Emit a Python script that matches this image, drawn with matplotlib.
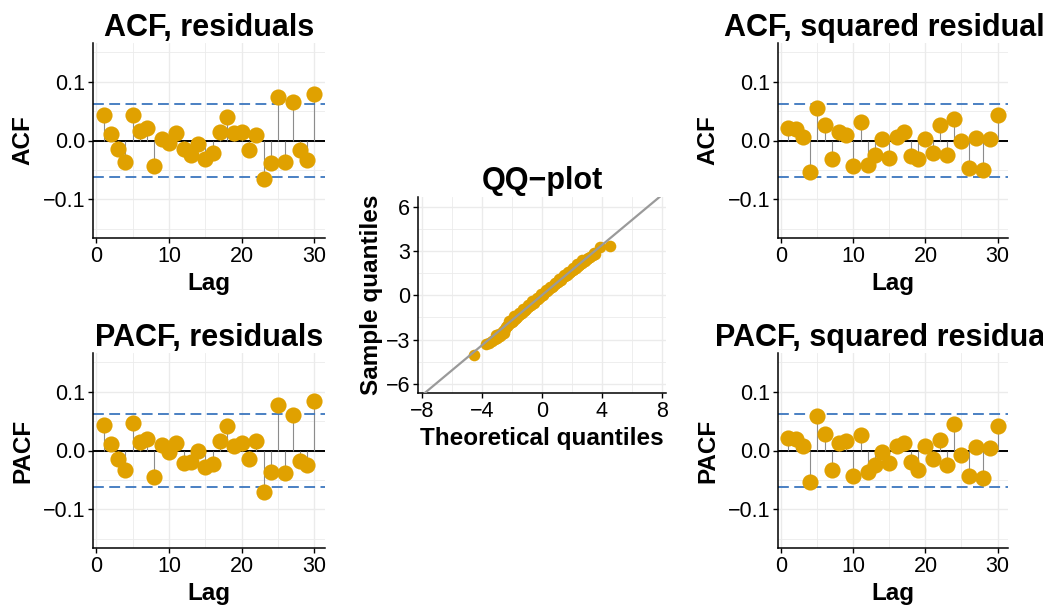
import matplotlib
matplotlib.use("Agg")
import matplotlib.pyplot as plt
import numpy as np

plt.rcParams["font.family"] = ["Liberation Sans", "DejaVu Sans"]

# -------------------------
# Data
# -------------------------
lags = list(range(1, 31))

acf_res = [0.043, 0.011, -0.014, -0.036, 0.043, 0.017, 0.022, -0.043, 0.003, -0.004,
           0.012, -0.014, -0.024, -0.006, -0.031, -0.022, 0.014, 0.040, 0.013, 0.014,
           -0.017, 0.010, -0.065, -0.038, 0.074, -0.037, 0.065, -0.017, -0.034, 0.080]

pacf_res = [0.043, 0.011, -0.015, -0.033, 0.046, 0.015, 0.019, -0.045, 0.009, -0.003,
            0.012, -0.021, -0.020, -0.001, -0.028, -0.023, 0.017, 0.041, 0.007, 0.012,
            -0.014, 0.016, -0.071, -0.036, 0.077, -0.038, 0.060, -0.018, -0.025, 0.084]

acf_sq = [0.022, 0.019, 0.006, -0.054, 0.056, 0.027, -0.032, 0.015, 0.009, -0.044,
          0.031, -0.042, -0.025, 0.003, -0.030, 0.006, 0.014, -0.027, -0.032, 0.002,
          -0.021, 0.026, -0.024, 0.037, -0.001, -0.047, 0.005, -0.051, 0.003, 0.044]

pacf_sq = [0.022, 0.019, 0.007, -0.053, 0.058, 0.028, -0.034, 0.012, 0.017, -0.044,
           0.027, -0.036, -0.024, -0.003, -0.021, 0.007, 0.012, -0.020, -0.033, 0.007,
           -0.014, 0.018, -0.024, 0.045, -0.008, -0.044, 0.006, -0.047, 0.005, 0.041]

conf_band = 0.062

qq_theo = [-4.52, -3.74, -3.55, -3.35, -3.15, -2.97, -2.80, -2.65, -2.52, -2.41,
           -2.25, -2.10, -1.95, -1.80, -1.65, -1.50, -1.35, -1.20, -1.05, -0.90,
           -0.75, -0.60, -0.45, -0.30, -0.15, 0.00, 0.15, 0.30, 0.45, 0.60,
           0.75, 0.90, 1.05, 1.20, 1.35, 1.50, 1.65, 1.80, 1.95, 2.10,
           2.25, 2.40, 2.55, 2.70, 2.85, 3.00, 3.20, 3.40, 3.57, 3.90, 4.57,
           -3.05, -2.88, -2.60, -2.45, -2.32, -2.00, -1.72, -1.42, -1.12, -0.82,
           -0.52, -0.22, 0.08, 0.38, 0.68, 0.98, 1.28, 1.58, 1.88, 2.18,
           2.48, 2.78, 3.08, 3.45,
           -2.20, -1.85, -1.55, -1.25, -0.95, -0.65, -0.35, -0.05, 0.25, 0.55,
           0.85, 1.15, 1.45, 1.75, 2.05, 2.35, 2.65]
qq_samp = [-4.04, -3.32, -3.22, -3.10, -2.98, -2.91, -2.75, -2.62, -2.57, -2.12,
           -2.00, -1.86, -1.72, -1.58, -1.45, -1.32, -1.19, -1.06, -0.93, -0.79,
           -0.66, -0.53, -0.39, -0.26, -0.12, 0.01, 0.14, 0.27, 0.40, 0.53,
           0.66, 0.79, 0.91, 1.03, 1.15, 1.28, 1.40, 1.52, 1.63, 1.75,
           1.86, 1.98, 2.10, 2.22, 2.35, 2.48, 2.62, 2.72, 2.79, 3.25, 3.33,
           -2.70, -2.60, -2.45, -2.30, -2.05, -1.80, -1.55, -1.30, -1.02, -0.76,
           -0.50, -0.24, 0.04, 0.30, 0.55, 0.81, 1.07, 1.32, 1.57, 1.80,
           2.04, 2.30, 2.55, 2.85,
           -1.72, -1.42, -1.17, -0.92, -0.68, -0.42, -0.17, 0.08, 0.33, 0.58,
           0.84, 1.10, 1.35, 1.60, 1.86, 2.10, 2.37]
qq_slope = 0.85

POINT = "#E0A100"
BAND = "#3B76BE"
GRID = "#EBEBEB"

W, H = 1043, 606


def px_axes(fig, left, top, right, bottom):
    return fig.add_axes([left / W, 1 - bottom / H, (right - left) / W, (bottom - top) / H])


def style(ax):
    for s in ["top", "right"]:
        ax.spines[s].set_visible(False)
    for s in ["left", "bottom"]:
        ax.spines[s].set_linewidth(1.1)
        ax.spines[s].set_color("black")
    ax.tick_params(which="major", length=3.5, width=1.0, labelsize=15.5,
                   colors="black", pad=2)
    ax.tick_params(which="minor", length=0)
    ax.grid(which="major", color=GRID, lw=1.0, zorder=0)
    ax.grid(which="minor", color=GRID, lw=0.6, zorder=0)
    ax.set_axisbelow(True)


def corr_panel(ax, vals, title, ylabel):
    style(ax)
    ax.axhline(0, color="black", lw=1.4, zorder=2)
    ax.vlines(lags, 0, vals, color="#8C8C8C", lw=0.8, zorder=2)
    for c in (conf_band, -conf_band):
        ax.axhline(c, color=BAND, lw=1.3, ls=(0, (6, 3)), zorder=2)
    ax.scatter(lags, vals, s=135, color=POINT, zorder=3, linewidths=0)
    ax.set_xlim(-0.45, 31.45)
    ax.set_ylim(-0.166, 0.166)
    ax.set_xticks([0, 10, 20, 30])
    ax.set_xticks([5, 15, 25], minor=True)
    ax.set_yticks([-0.1, 0.0, 0.1])
    ax.set_yticklabels(["\u22120.1", "0.0", "0.1"])
    ax.set_yticks([-0.15, -0.05, 0.05, 0.15], minor=True)
    ax.set_title(title, fontsize=22, fontweight="bold", pad=4)
    ax.set_xlabel("Lag", fontsize=17.5, fontweight="bold", labelpad=4)
    ax.set_ylabel(ylabel, fontsize=17.5, fontweight="bold", labelpad=6)


fig = plt.figure(figsize=(W / 100, H / 100), dpi=100)

ax1 = px_axes(fig, 93, 43, 325, 238)
corr_panel(ax1, acf_res, "ACF, residuals", "ACF")

ax2 = px_axes(fig, 93, 353, 325, 548)
corr_panel(ax2, pacf_res, "PACF, residuals", "PACF")

ax3 = px_axes(fig, 778, 43, 1008, 238)
corr_panel(ax3, acf_sq, "ACF, squared residuals", "ACF")

ax4 = px_axes(fig, 778, 353, 1008, 548)
corr_panel(ax4, pacf_sq, "PACF, squared residuals", "PACF")

# QQ plot
axq = px_axes(fig, 418, 197, 666, 393)
style(axq)
axq.scatter(qq_theo, qq_samp, s=70, color=POINT, zorder=3, linewidths=0)
axq.axline((0, 0), slope=qq_slope, color="#9A9A9A", lw=1.6, zorder=4)
axq.set_xlim(-8.25, 8.28)
axq.set_ylim(-6.63, 6.67)
axq.set_xticks([-8, -4, 0, 4, 8])
axq.set_xticks([-6, -2, 2, 6], minor=True)
axq.set_yticks([-6, -3, 0, 3, 6])
axq.set_yticks([-4.5, -1.5, 1.5, 4.5], minor=True)
axq.set_title("QQ\u2212plot", fontsize=22, fontweight="bold", pad=6)
axq.set_xlabel("Theoretical quantiles", fontsize=17.5, fontweight="bold", labelpad=4)
axq.set_ylabel("Sample quantiles", fontsize=17.5, fontweight="bold", labelpad=2)

plt.savefig("out.png", dpi=100)
